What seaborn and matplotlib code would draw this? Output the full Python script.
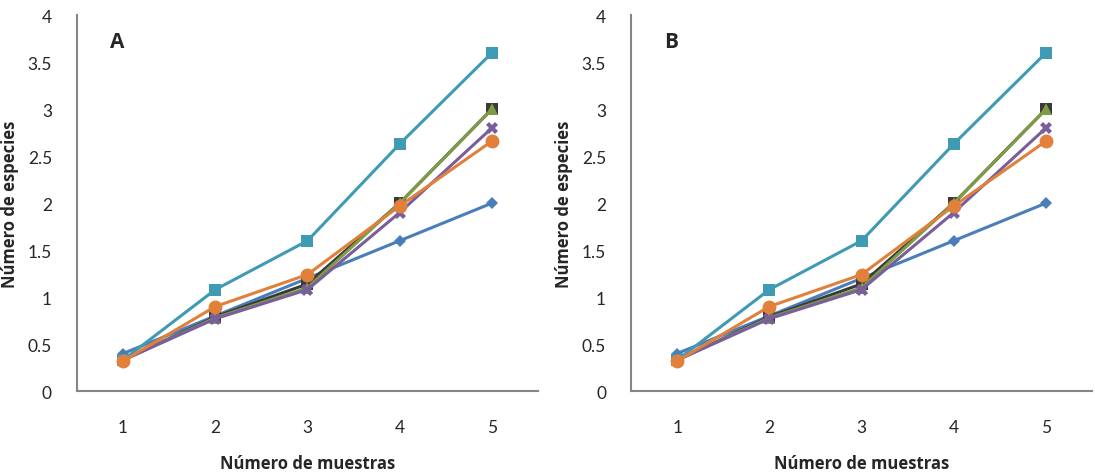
import pandas as pd
import numpy as np
import seaborn as sns
import matplotlib.pyplot as plt

sns.set_style('white')
plt.rcParams['font.family'] = ['Lato', 'DejaVu Sans']

# data (both panels show the same curves)
muestras = [1, 2, 3, 4, 5]
serie_azul = [0.40, 0.80, 1.20, 1.60, 2.00]
serie_negra = [0.33, 0.79, 1.14, 2.00, 3.00]
serie_verde = [0.33, 0.78, 1.10, 2.00, 3.00]
serie_morada = [0.33, 0.77, 1.08, 1.90, 2.80]
serie_turquesa = [0.33, 1.08, 1.60, 2.63, 3.60]
serie_naranja = [0.32, 0.90, 1.24, 1.97, 2.66]
paneles = ['A', 'B']
y_ticks = [0, 0.5, 1, 1.5, 2, 2.5, 3, 3.5, 4]
y_labels = ['0', '0.5', '1', '1.5', '2', '2.5', '3', '3.5', '4']

estilos = [
    (serie_azul, '#4A7EBB', 'D', 6),
    (serie_negra, '#3A3A3A', 's', 8),
    (serie_verde, '#7E9B45', '^', 8),
    (serie_morada, '#7A5E9C', 'X', 8),
    (serie_turquesa, '#3F9AB3', 's', 8),
    (serie_naranja, '#E0803A', 'o', 10),
]

fig = plt.figure(figsize=(10.95, 4.77), dpi=100)
posiciones = [[0.0703, 0.178, 0.421, 0.788], [0.5763, 0.178, 0.421, 0.788]]

for pos, letra in zip(posiciones, paneles):
    ax = fig.add_axes(pos)
    for vals, color, marker, ms in estilos:
        df = pd.DataFrame({'x': muestras, 'y': vals})
        sns.lineplot(data=df, x='x', y='y', ax=ax, color=color, marker=marker,
                     markersize=ms, markeredgewidth=0, linewidth=2.2)
    ax.set_xlim(0.5, 5.5)
    ax.set_ylim(0, 4)
    ax.set_xticks(muestras)
    ax.set_xticklabels([str(m) for m in muestras])
    ax.set_yticks(y_ticks)
    ax.set_yticklabels(y_labels)
    ax.tick_params(axis='x', length=0, pad=20, labelsize=12.5)
    ax.tick_params(axis='y', length=0, pad=18, labelsize=12.5)
    for s in ['top', 'right']:
        ax.spines[s].set_visible(False)
    for s in ['left', 'bottom']:
        ax.spines[s].set_color('#868686')
        ax.spines[s].set_linewidth(1.5)
    ax.set_xlabel('Número de muestras', fontsize=12, fontweight='bold',
                  family=['Open Sans', 'DejaVu Sans'])
    ax.set_ylabel('Número de especies', fontsize=12, fontweight='bold',
                  family=['Open Sans', 'DejaVu Sans'])
    ax.xaxis.set_label_coords(0.5, -0.168)
    ax.yaxis.set_label_coords(-0.125, 0.5)
    ax.text(0.072, 0.93, letra, transform=ax.transAxes, fontsize=15,
            fontweight='bold', va='center', ha='left',
            family=['Open Sans', 'DejaVu Sans'])

fig.savefig('out.png', dpi=100)
